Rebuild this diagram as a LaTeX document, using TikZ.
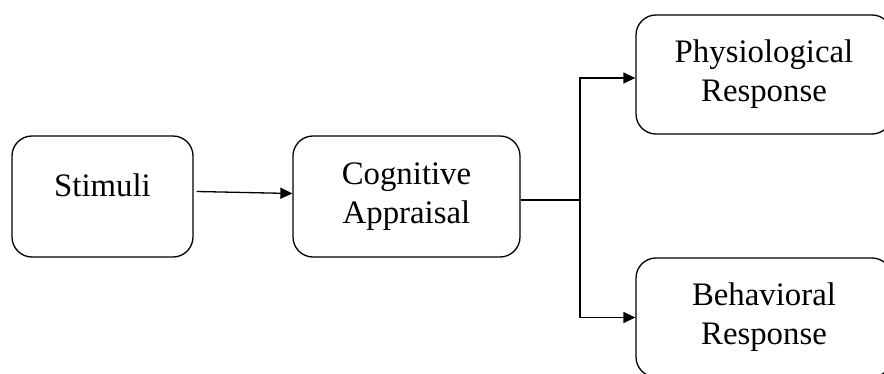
\documentclass[tikz,border=0pt]{standalone}
\usepackage{fontspec}
\setmainfont{Liberation Serif}
\usetikzlibrary{arrows.meta,positioning}

\begin{document}
\begin{tikzpicture}[x=0.5pt,y=-0.5pt,line width=0.65pt,>={Triangle[length=6pt,width=5.5pt]},
  box/.style={draw,rounded corners=10pt,align=center,inner sep=0pt,
    font=\fontsize{16.4}{19.5}\selectfont}]
  \clip (0,0) rectangle (884,374);
  \node[box,minimum width=90.5pt,minimum height=60.5pt,text height=11pt,text depth=11pt] (stim) at (102.5,196.5) {Stimuli};
  \node[box,minimum width=113.5pt,minimum height=60.5pt] (appr) at (406.5,196.5) {Cognitive\\Appraisal};
  \node[box,minimum width=128pt,minimum height=59.5pt] (phys) at (764,74.5) {Physiological\\Response};
  \node[box,minimum width=128pt,minimum height=59.5pt] (behav) at (764,317.5) {Behavioral\\Response};
  \coordinate (fork) at (580,200);
  \draw[->] ([xshift=1.5pt,yshift=2.5pt]stim.east) -- ([yshift=1.5pt]appr.west);
  \draw ([yshift=-1.75pt]appr.east) -- (fork);
  \draw[->] (fork) |- ([yshift=-1.75pt]phys.west);
  \draw[->] (fork) |- (behav.west);
\end{tikzpicture}
\end{document}
